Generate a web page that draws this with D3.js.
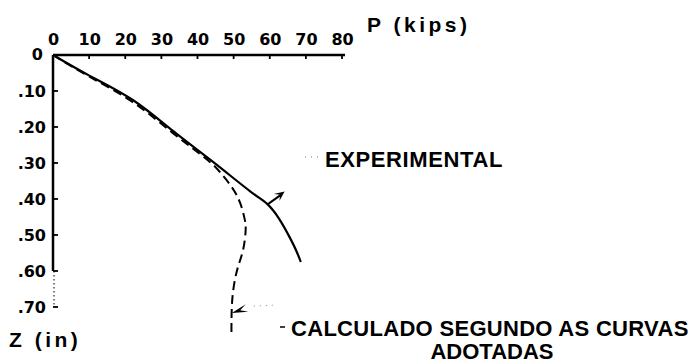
<!DOCTYPE html>
<html>
<head>
<meta charset="utf-8">
<script src="https://cdn.jsdelivr.net/npm/d3@7"></script>
<style>
  html, body { margin: 0; padding: 0; background: #fff; }
  svg { display: block; }
  text { font-family: "Liberation Sans", Arial, sans-serif; font-weight: bold; fill: #000; }
</style>
</head>
<body>
<script>
// Load P (kips) against deflection Z (in)
const pTicks = [0, 10, 20, 30, 40, 50, 60, 70, 80];
const zTicks = [0, 0.1, 0.2, 0.3, 0.4, 0.5, 0.6, 0.7];
const zTickLabels = ["0", ".10", ".20", ".30", ".40", ".50", ".60", ".70"];

// Measured curve: [P, Z]
const experimental = [
  [0, 0], [10.2, 0.058], [22.1, 0.125], [33.2, 0.211], [44.3, 0.297],
  [54.5, 0.378], [59.2, 0.413], [62.6, 0.455], [65.6, 0.508], [67.4, 0.545], [68.6, 0.575]
];
// Computed curve: [P, Z]
const calculado = [
  [0, 0], [10.2, 0.061], [22.1, 0.131], [33.2, 0.217], [42.1, 0.286], [46.2, 0.325],
  [49.5, 0.367], [51.8, 0.411], [53.1, 0.458], [53.3, 0.492], [52.6, 0.542],
  [51.2, 0.589], [50.1, 0.639], [49.5, 0.70], [49.4, 0.783]
];
// Leader anchors on each curve: [P, Z]
const expArrowAt = [59.4, 0.415];
const calcArrowAt = [49.5, 0.717];

const W = 696, H = 364;
const svg = d3.select("body").append("svg").attr("width", W).attr("height", H);

const x = d3.scaleLinear().domain([0, 80]).range([53, 342]);
const y = d3.scaleLinear().domain([0, 0.7]).range([55, 307]);

// Top axis
const xAxis = d3.axisTop(x).tickValues(pTicks).tickSize(0).tickPadding(10)
  .tickFormat(d3.format("d"));
const gx = svg.append("g").attr("transform", `translate(0,${y(0)})`).call(xAxis);
gx.select(".domain").remove();
gx.selectAll("text").style("font-size", "16px").style("font-family", "\"DejaVu Sans\", sans-serif")
  .style("font-weight", "bold");
svg.append("line").attr("x1", x(0)).attr("x2", x(80) + 3).attr("y1", y(0)).attr("y2", y(0))
  .attr("stroke", "#000").attr("stroke-width", 2.5);
svg.selectAll(".xt").data(pTicks.slice(1)).join("line")
  .attr("x1", d => x(d)).attr("x2", d => x(d))
  .attr("y1", y(0)).attr("y2", y(0) + 4)
  .attr("stroke", "#000").attr("stroke-width", 1.8);

// Left axis
const yAxis = d3.axisLeft(y).tickValues(zTicks).tickSize(0).tickPadding(7)
  .tickFormat((d, i) => zTickLabels[i]);
const gy = svg.append("g").attr("transform", `translate(${x(0)},0)`).call(yAxis);
gy.select(".domain").remove();
gy.selectAll("text").style("font-size", "16px").style("font-family", "\"DejaVu Sans\", sans-serif")
  .style("font-weight", "bold");
gy.selectAll(".tick").filter(d => d === 0).select("text").attr("x", -10).attr("dy", "0.25em");
svg.append("line").attr("x1", x(0)).attr("x2", x(0)).attr("y1", y(0)).attr("y2", y(0.6))
  .attr("stroke", "#000").attr("stroke-width", 2.5);
svg.append("line").attr("x1", x(0) + 1).attr("x2", x(0) + 1).attr("y1", y(0.6)).attr("y2", y(0.7))
  .attr("stroke", "#000").attr("stroke-width", 1).attr("stroke-dasharray", "1.5,2.5");
svg.selectAll(".yt").data(zTicks.slice(1)).join("line")
  .attr("x1", x(0)).attr("x2", x(0) + 5)
  .attr("y1", d => y(d)).attr("y2", d => y(d))
  .attr("stroke", "#000").attr("stroke-width", 1.8);

// Axis titles
svg.append("text").attr("x", 367).attr("y", 32).style("font-size", "21px")
  .style("letter-spacing", "3.5px").text("P (kips)");
svg.append("text").attr("x", 9).attr("y", 347).style("font-size", "21px")
  .style("letter-spacing", "3.5px").text("Z (in)");

// Curves
const line = d3.line().x(d => x(d[0])).y(d => y(d[1])).curve(d3.curveNatural);
svg.append("path").datum(calculado).attr("d", line).attr("fill", "none")
  .attr("stroke", "#000").attr("stroke-width", 2).attr("stroke-dasharray", "9,5");
svg.append("path").datum(experimental).attr("d", line).attr("fill", "none")
  .attr("stroke", "#000").attr("stroke-width", 2.2);

// Leaders and arrowheads
function arrowHead(tipX, tipY, fromX, fromY, len, half) {
  const a = Math.atan2(tipY - fromY, tipX - fromX);
  const bx = tipX - len * Math.cos(a), by = tipY - len * Math.sin(a);
  const nx = -Math.sin(a) * half, ny = Math.cos(a) * half;
  svg.append("path")
    .attr("d", `M${tipX},${tipY}L${bx + nx},${by + ny}L${bx + 0.45 * len * Math.cos(a)},${by + 0.45 * len * Math.sin(a)}L${bx - nx},${by - ny}Z`)
    .attr("fill", "#000");
}

// EXPERIMENTAL leader
const ex0 = x(expArrowAt[0]), ey0 = y(expArrowAt[1]);
svg.append("line").attr("x1", ex0).attr("y1", ey0).attr("x2", ex0 + 14).attr("y2", ey0 - 10)
  .attr("stroke", "#000").attr("stroke-width", 2);
arrowHead(ex0 + 17, ey0 - 13, ex0, ey0, 10, 4.5);
svg.append("line").attr("x1", 305).attr("x2", 321).attr("y1", 157).attr("y2", 157)
  .attr("stroke", "#777").attr("stroke-width", 1).attr("stroke-dasharray", "1,5");
svg.append("text").attr("x", 325).attr("y", 167).style("font-size", "22px")
  .style("letter-spacing", "0.6px").text("EXPERIMENTAL");

// CALCULADO leader
const cx0 = x(calcArrowAt[0]), cy0 = y(calcArrowAt[1]);
arrowHead(cx0, cy0, cx0 + 18, cy0 - 6, 16, 4);
svg.append("line").attr("x1", cx0 + 22).attr("x2", cx0 + 42).attr("y1", cy0 - 7).attr("y2", cy0 - 8)
  .attr("stroke", "#888").attr("stroke-width", 1).attr("stroke-dasharray", "1,5");
svg.append("line").attr("x1", 280).attr("x2", 285).attr("y1", 327).attr("y2", 327)
  .attr("stroke", "#000").attr("stroke-width", 1.5);
svg.append("text").attr("x", 291).attr("y", 336).style("font-size", "22px")
  .style("letter-spacing", "0.3px").text("CALCULADO SEGUNDO AS CURVAS");
svg.append("text").attr("x", 492).attr("y", 359).attr("text-anchor", "middle").style("font-size", "22px")
  .text("ADOTADAS");
</script>
</body>
</html>
